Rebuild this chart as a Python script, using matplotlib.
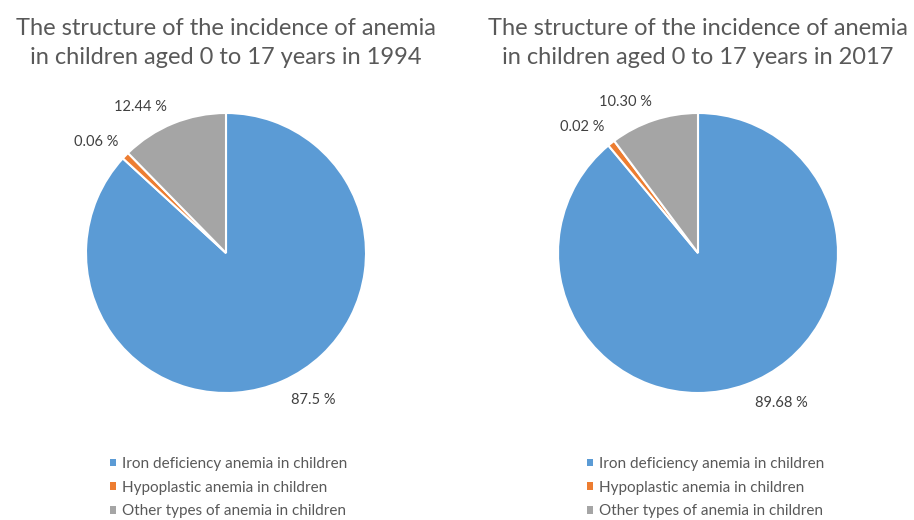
import matplotlib
matplotlib.use('Agg')
import matplotlib.pyplot as plt
from matplotlib.patches import Patch
import numpy as np

plt.rcParams['font.family'] = ['Lato', 'DejaVu Sans']

categories = ['Iron deficiency anemia in children',
              'Hypoplastic anemia in children',
              'Other types of anemia in children']
colors = ['#5B9BD5', '#ED7D31', '#A5A5A5']

# printed shares (%)
shares_1994 = [87.5, 0.06, 12.44]
shares_2017 = [89.68, 0.02, 10.30]
label_1994 = ['87.5 %', '0.06 %', '12.44 %']
label_2017 = ['89.68 %', '0.02 %', '10.30 %']
# wedge sizes as they appear in the picture (the tiny slice is drawn wider than its label)
wedges_1994 = [87.5, 0.85, 12.44]
wedges_2017 = [89.68, 0.85, 10.30]

titles = ['The structure of the incidence of anemia\nin children aged 0 to 17 years in 1994',
          'The structure of the incidence of anemia\nin children aged 0 to 17 years in 2017']

W, H = 914, 520
fig = plt.figure(figsize=(W / 100, H / 100), dpi=100)

def px_axes(cx, cy, r):
    return fig.add_axes([(cx - r) / W, 1 - (cy + r) / H, 2 * r / W, 2 * r / H])

# label placement: (radius, angle shift in degrees) per wedge
lab_pos = [
    [(1.22, 6.8), (1.22, 3.5), (1.21, 8)],
    [(1.225, 9.3), (1.22, 4.3), (1.20, 7.3)],
]

setups = [(226, wedges_1994, label_1994, titles[0], 96),
          (698, wedges_2017, label_2017, titles[1], 573)]

handles = [Patch(facecolor=c, edgecolor='none') for c in colors]

for k, (cx, sizes, labs, title, lx) in enumerate(setups):
    ax = px_axes(cx, 253, 140)
    wedges, _ = ax.pie(sizes, colors=colors, startangle=90, counterclock=False,
                       wedgeprops=dict(edgecolor='white', linewidth=1.5))
    ax.set_xlim(-1, 1)
    ax.set_ylim(-1, 1)
    ax.set_aspect('auto')
    for i, w in enumerate(wedges):
        mid = (w.theta1 + w.theta2) / 2
        r, sh = lab_pos[k][i]
        a = np.deg2rad(mid + sh)
        ax.text(r * np.cos(a), r * np.sin(a), labs[i], ha='center', va='center',
                fontsize=10.5, color='#404040', clip_on=False)
    fig.text(cx / W, 1 - 43 / H, title, ha='center', va='center', fontsize=17,
             color='#595959', linespacing=1.5)
    fig.legend(handles, categories, loc='upper left',
               bbox_to_anchor=(lx / W, 1 - 443 / H), frameon=False,
               fontsize=11, labelcolor='#595959', handlelength=0.38,
               handleheight=0.38, handletextpad=0.45, labelspacing=0.64)

fig.savefig('out.png', dpi=100, facecolor='white')
